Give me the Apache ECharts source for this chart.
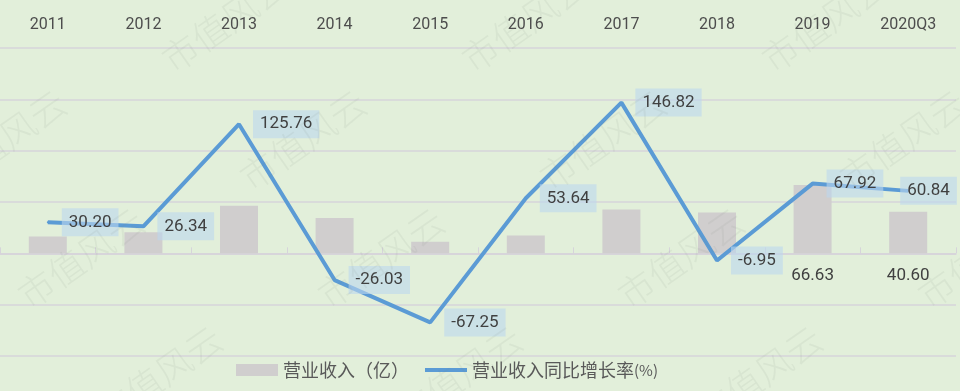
<!DOCTYPE html>
<html>
<head>
<meta charset="utf-8">
<script src="https://cdn.jsdelivr.net/npm/echarts@6/dist/echarts.min.js"></script>
<style>
  html, body { margin: 0; padding: 0; background: #e2efda; }
  #chart { width: 960px; height: 391px; }
</style>
</head>
<body>
<div id="chart"></div>
<script>
// 数据
const years = ['2011', '2012', '2013', '2014', '2015', '2016', '2017', '2018', '2019', '2020Q3'];
const revenue = [16.3, 20.6, 46.4, 34.4, 11.3, 17.3, 42.6, 39.7, 66.63, 40.60];   // 营业收入（亿）
const growth = [30.20, 26.34, 125.76, -26.03, -67.25, 53.64, 146.82, -6.95, 67.92, 60.84]; // 同比增长率(%)
const revenueLabelShown = [false, false, false, false, false, false, false, false, true, true];

const barName = '营业收入（亿）';
const lineName = '营业收入同比增长率(%)';
const textFont = 'Roboto, "Noto Sans CJK SC", sans-serif';

// 水印
const watermark = [];
for (let row = 0; row < 4; row++) {
    for (let i = 0; i < 5; i++) {
        watermark.push({
            type: 'text',
            x: -75 + 300 * i + 78 * row,
            y: 22 + 118 * row,
            rotation: 35 * Math.PI / 180,
            silent: true,
            z: 100,
            style: {
                text: '市值风云',
                fill: 'rgba(120, 130, 120, 0.09)',
                font: '300 36px "Noto Sans CJK SC"',
                align: 'center',
                verticalAlign: 'middle'
            }
        });
    }
}

const myChart = echarts.init(document.getElementById('chart'));

const options = {
    backgroundColor: '#e2efda',
    animation: false,
    graphic: watermark,
    legend: {
        left: 231,
        top: 356,
        itemWidth: 42,
        itemHeight: 12,
        itemGap: 16,
        textStyle: {
            color: '#595959',
            fontSize: 18,
            fontFamily: '"Noto Sans CJK SC", sans-serif',
            rich: {
                s: { fontSize: 15, color: '#595959', fontFamily: '"Noto Sans CJK SC", sans-serif' }
            }
        },
        formatter: function (name) {
            if (name === lineName) return '营业收入同比增长率{s|(%)}';
            return name;
        },
        data: [
            { name: barName, icon: 'rect' },
            { name: lineName, icon: 'path://M0 0H44V4H0Z', itemStyle: { color: '#5b9bd5', borderWidth: 0 } }
        ]
    },
    grid: {
        top: 48,
        bottom: 35,
        left: -4,
        right: 4,
        containLabel: false
    },
    xAxis: {
        type: 'category',
        position: 'top',
        data: years,
        axisLine: {
            show: true,
            lineStyle: { color: '#d6d4da', width: 1.5 }
        },
        axisTick: {
            show: true,
            length: 6,
            lineStyle: { color: '#d6d4da' }
        },
        axisLabel: {
            color: '#4d4d4d',
            fontSize: 16,
            fontFamily: textFont,
            margin: 15
        }
    },
    yAxis: {
        type: 'value',
        min: -100,
        max: 200,
        interval: 50,
        axisLine: { show: false },
        axisTick: { show: false },
        axisLabel: { show: false },
        splitLine: {
            show: true,
            lineStyle: { color: '#d6d4da', width: 1.5 }
        }
    },
    series: [
        {
            name: barName,
            type: 'bar',
            barWidth: 38,
            data: revenue.map((v, i) => ({
                value: v,
                label: { show: revenueLabelShown[i] }
            })),
            itemStyle: { color: '#d0cece' },
            label: {
                position: 'bottom',
                distance: 14,
                color: '#404040',
                fontSize: 17,
                fontFamily: textFont,
                formatter: (p) => p.value.toFixed(2)
            },
            z: 2
        },
        {
            name: lineName,
            type: 'line',
            data: growth.map((v, i) => ({
                value: v,
                label: i === growth.length - 1 ? { offset: [-22, 0] } : {}
            })),
            color: '#5b9bd5',
            symbol: 'circle',
            symbolSize: 2,
            lineStyle: { color: '#5b9bd5', width: 4 },
            itemStyle: { color: '#5b9bd5' },
            label: {
                show: true,
                position: 'right',
                distance: 13,
                color: '#404040',
                fontSize: 17,
                fontFamily: textFont,
                lineHeight: 20,
                padding: [4, 7],
                backgroundColor: 'rgba(189, 215, 238, 0.6)',
                formatter: (p) => p.value.toFixed(2)
            },
            z: 3
        }
    ]
};

myChart.setOption(options);
</script>
</body>
</html>
